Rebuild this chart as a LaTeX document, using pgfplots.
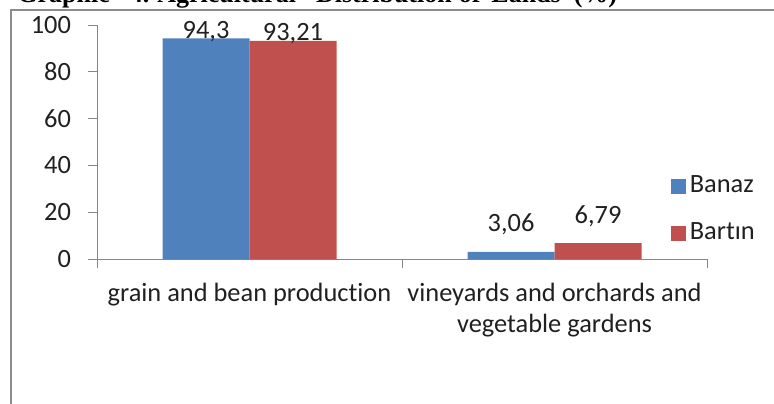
\documentclass[border=0pt]{standalone}
\usepackage{fontspec}
\setmainfont{Carlito}[Ligatures={NoCommon}]
\newfontfamily\titlefont{Liberation Serif}
\usepackage{pgfplots}
\pgfplotsset{compat=1.18}
\definecolor{banaz}{HTML}{4F81BD}
\definecolor{bartin}{HTML}{C0504D}
\definecolor{axgray}{HTML}{868686}
\definecolor{framegray}{HTML}{8C8C8C}
\definecolor{txt}{HTML}{202020}
\begin{document}
\begin{tikzpicture}
\useasboundingbox (0,0) rectangle (387pt,201.5pt);
\clip (0,0) rectangle (387pt,201.5pt);
\node[anchor=base west, inner sep=0pt, font=\titlefont\bfseries\fontsize{13}{15}\selectfont] at (8.5pt,200.3pt) {Graphic\hspace{10pt}4.\hspace{4pt}Agricultural\hspace{10pt}Distribution\hspace{3.5pt}of\hspace{5.5pt}Lands\hspace{6.5pt}(\%)};
\draw[framegray, line width=1pt] (5.25pt,-2pt) -- (5.25pt,196.5pt) -- (392pt,196.5pt);
\begin{axis}[
  at={(48.5pt,72pt)}, anchor=south west,
  scale only axis, width=305pt, height=117pt,
  xmin=-0.5, xmax=1.5, ymin=0, ymax=100,
  ybar=0pt, bar width=43.5pt,
  axis x line*=bottom, axis y line*=left,
  axis line style={axgray, line width=0.5pt},
  tick style={axgray, line width=0.5pt},
  tick align=outside, major tick length=4.5pt,
  ytick={0,20,...,100},
  xtick={-0.5,0.5,1.5}, xticklabels={},
  extra x ticks={0,1},
  extra x tick labels={grain and bean production,{vineyards and orchards and\\vegetable gardens}},
  extra x tick style={major tick length=0pt, tick style={draw=none}},
  /pgf/number format/assume math mode=true,
  /pgf/number format/use comma,
  tick label style={font=\fontsize{13.2}{15.5}\selectfont, text=txt},
  yticklabel style={xshift=-5pt},
  xticklabel style={align=center, anchor=north, yshift=-8.5pt},
  nodes near coords,
  visualization depends on={rawy \as \rawy},
  every node near coord/.append style={font=\fontsize{13.2}{15}\selectfont, text=txt, anchor=base, inner sep=0pt, yshift={(\rawy<50)*10}},
  legend image code/.code={\fill[#1] (0pt,-3.75pt) rectangle (7.5pt,3.75pt);},
  legend style={at={(0.94,0.2115)}, anchor=west, draw=none, fill=none, inner sep=0pt,
    font=\fontsize{13.2}{15}\selectfont, text=txt, row sep=7.5pt,
    nodes={text height=9pt, text depth=3pt, inner sep=2pt}},
  legend cell align=left,
]
\addplot[fill=banaz, draw=none] coordinates {(0,94.3) (1,3.06)};
\addplot[fill=bartin, draw=none] coordinates {(0,93.21) (1,6.79)};
\legend{Banaz, Bartın}
\end{axis}
\end{tikzpicture}
\end{document}
